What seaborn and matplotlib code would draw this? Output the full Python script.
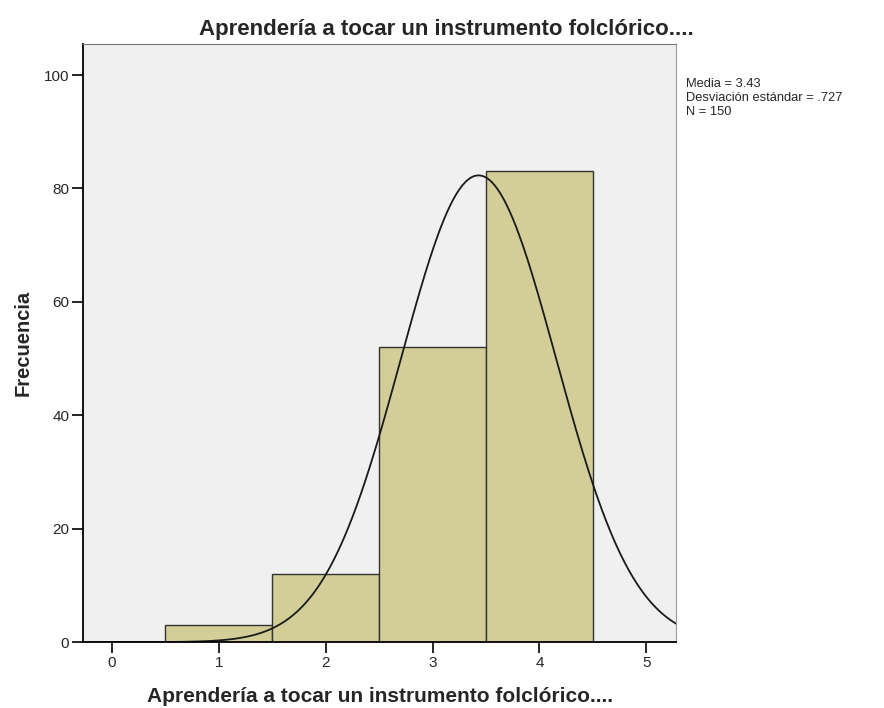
import numpy as np
import pandas as pd
import seaborn as sns
import matplotlib.pyplot as plt

valores = [1, 2, 3, 4]
frecuencias = [3, 12, 52, 83]
bordes = [0.5, 1.5, 2.5, 3.5, 4.5]
media = 3.43
desv = 0.727
n = 150
titulo = 'Aprendería a tocar un instrumento folclórico....'
etiquetas_stats = ['Media = 3.43', 'Desviación estándar = .727', 'N = 150']

sns.set_style('white')
plt.rcParams['font.family'] = ['Liberation Sans', 'DejaVu Sans']

df = pd.DataFrame({'valor': valores, 'frecuencia': frecuencias})

fig = plt.figure(figsize=(8.84, 7.08), dpi=100)
ax = fig.add_axes([0.094, 0.093, 0.671, 0.845])
ax.set_facecolor('#F0F0F0')

sns.histplot(data=df, x='valor', weights='frecuencia', bins=bordes,
             color='#D3CE97', edgecolor='#333333', linewidth=1.0, alpha=1, ax=ax)

# curva normal (ancho de clase = 1)
xs = np.linspace(-0.27, 5.28, 400)
ys = n * np.exp(-0.5 * ((xs - media) / desv) ** 2) / (desv * np.sqrt(2 * np.pi))
sns.lineplot(x=xs, y=ys, color='#1a1a1a', linewidth=1.3, ax=ax)

ax.set_xlim(-0.27, 5.28)
ax.set_ylim(0, 105.5)
ax.set_xticks(range(0, 6))
ax.set_yticks(range(0, 101, 20))
ax.tick_params(axis='both', direction='out', length=8, width=1.2, color='black',
               labelsize=11, left=True, bottom=True, pad=2)

for lado in ['left', 'bottom']:
    ax.spines[lado].set_color('black')
    ax.spines[lado].set_linewidth(1.3)
ax.spines['top'].set_color('#777777')
ax.spines['right'].set_color('#999999')

ax.set_xlabel(titulo, fontsize=15, fontweight='bold', labelpad=12)
ax.set_ylabel('Frecuencia', fontsize=14.5, fontweight='bold', labelpad=8)
# el titulo va centrado en la figura, no en los ejes
fig.text(0.505, 0.958, titulo, fontsize=16, fontweight='bold',
         ha='center', va='center')

fig.text(0.776, 0.890, '\n'.join(etiquetas_stats), fontsize=9.3,
         va='top', ha='left', linespacing=1.22)

plt.savefig('out.png', dpi=100)
